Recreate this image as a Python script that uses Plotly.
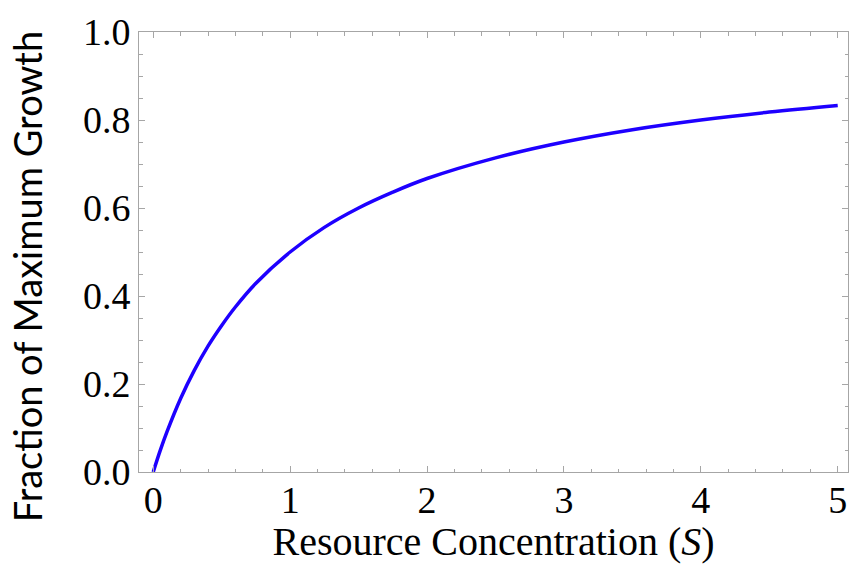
import plotly.graph_objects as go

# Resource concentration S (x) and fraction of maximum growth (y)
S_values = [0.0, 0.05, 0.1, 0.2, 0.3, 0.4, 0.5, 0.6, 0.75, 1.0, 1.25, 1.5, 1.75, 2.0,
            2.5, 3.0, 3.5, 4.0, 4.5, 5.0]
growth_fraction = [0.0, 0.048, 0.091, 0.167, 0.231, 0.286, 0.333, 0.375, 0.429, 0.5,
                   0.556, 0.6, 0.636, 0.667, 0.714, 0.75, 0.778, 0.8, 0.818, 0.833]

x_tick_vals = [0, 1, 2, 3, 4, 5]
x_tick_text = ["0", "1", "2", "3", "4", "5"]
y_tick_vals = [0.0, 0.2, 0.4, 0.6, 0.8, 1.0]
y_tick_text = ["0.0", "0.2", "0.4", "0.6", "0.8", "1.0"]

x_title = "Resource Concentration (<i>S</i>)"
y_title = "Fraction of Maximum Growth"

fig = go.Figure()
fig.add_trace(go.Scatter(
    x=S_values, y=growth_fraction, mode="lines",
    line=dict(color="rgb(30,0,255)", width=3.5, shape="spline", smoothing=1.0),
    showlegend=False, hoverinfo="skip",
))

serif = "Liberation Serif, Times New Roman, serif"
frame_col = "#a6a6a6"

fig.update_layout(
    width=851, height=564,
    margin=dict(l=139, r=3, t=32, b=92),
    plot_bgcolor="white", paper_bgcolor="white",
    xaxis=dict(
        range=[-0.104, 5.075], showgrid=False, zeroline=False,
        showline=True, linecolor=frame_col, linewidth=1, mirror="ticks",
        ticks="inside", ticklen=6, tickwidth=1, tickcolor=frame_col,
        tickvals=x_tick_vals, ticktext=x_tick_text, ticklabelstandoff=-6,
        tickfont=dict(family=serif, size=38, color="black"),
        minor=dict(dtick=0.2, tick0=0, ticks="inside", ticklen=3.5, tickcolor=frame_col, showgrid=False),
        title=dict(text=x_title, font=dict(family=serif, size=40, color="black"), standoff=2),
    ),
    yaxis=dict(
        range=[0, 1], showgrid=False, zeroline=False,
        showline=True, linecolor=frame_col, linewidth=1, mirror="ticks",
        ticks="inside", ticklen=6, tickwidth=1, tickcolor=frame_col,
        tickvals=y_tick_vals, ticktext=y_tick_text,
        tickfont=dict(family=serif, size=38, color="black"),
        minor=dict(dtick=0.05, tick0=0, ticks="inside", ticklen=3.5, tickcolor=frame_col, showgrid=False),
    ),
    annotations=[dict(
        text=y_title, textangle=-90, xref="paper", yref="paper",
        x=-0.158, y=0.445, xanchor="center", yanchor="middle", showarrow=False,
        font=dict(family="Lato", size=38, color="black"),
    )],
)

fig.write_html("out.html")
